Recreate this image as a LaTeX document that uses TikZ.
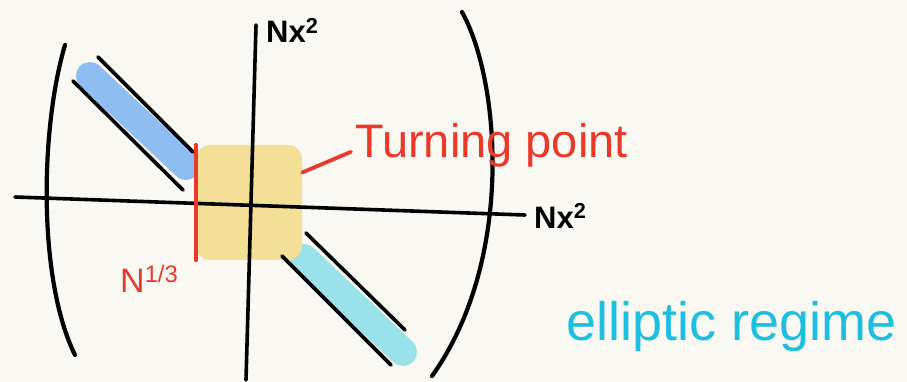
\documentclass[tikz,border=0pt]{standalone}
\usepackage{fontspec}
\setmainfont{Liberation Sans}
\usepackage{tikz}
\usetikzlibrary{positioning,calc}
\definecolor{paper}{HTML}{FAF8F3}
\definecolor{bandblue}{HTML}{8EBDF1}
\definecolor{bandcyan}{HTML}{9AE2EA}
\definecolor{sunyellow}{HTML}{F3DF95}
\definecolor{penred}{HTML}{E8392A}
\definecolor{pencyan}{HTML}{1CBFDF}

\begin{document}
\begin{tikzpicture}[x=1pt, y=-1pt,
  ink/.style={line width=3.6pt, line cap=round, black},
  bracket/.style={ink, line width=4.2pt},
  redpen/.style={line width=3.8pt, line cap=round, penred},
  band/.style={line width=28pt, line cap=round},
  sun/.style={fill=sunyellow, rounded corners=14pt, inner sep=0pt},
  lbl/.style={inner sep=0pt, anchor=base west}]
\useasboundingbox[fill=paper] (0,0) rectangle (907,382);
\draw[band, bandblue] (90,76) -- (186,166);
\draw[band, bandcyan] (304,258) -- (403,352);
\node[sun, minimum width=106pt, minimum height=115pt] (turn) at (249,202.5) {};
\draw[ink] (98,57) -- (193,152);
\draw[ink] (73,81) -- (183,190);
\draw[ink] (306,233) -- (405,330);
\draw[ink] (282,256) -- (391,365);
\draw[ink] (15,197) -- (525,215);
\draw[ink] (256,25) -- (246,380);
\draw[bracket] (65,45) .. controls (40,130) and (38,280) .. (75,355);
\draw[bracket] (462,12) .. controls (500,80) and (515,260) .. (432,376);
\draw[redpen] (turn.north west) -- (turn.south west);
\node[lbl, font=\bfseries\fontsize{31}{34}\selectfont] (vlbl) at (266,43) {Nx\textsuperscript{2}};
\node[lbl, font=\bfseries\fontsize{31}{34}\selectfont] (hlbl) at (534,228) {Nx\textsuperscript{2}};
\node[lbl, text=penred, font=\fontsize{34}{36}\selectfont] (nlbl) at (120,292) {N\textsuperscript{1/3}};
\node[lbl, text=penred, font=\fontsize{47}{50}\selectfont] (tlbl) at (355,158) {Turning point};
\node[lbl, text=pencyan, font=\fontsize{54}{60}\selectfont] (elbl) at (566,340) {elliptic regime};
\draw[redpen] ([yshift=30pt]turn.east) -- ([xshift=-4pt,yshift=-6pt]tlbl.west);
\end{tikzpicture}
\end{document}
